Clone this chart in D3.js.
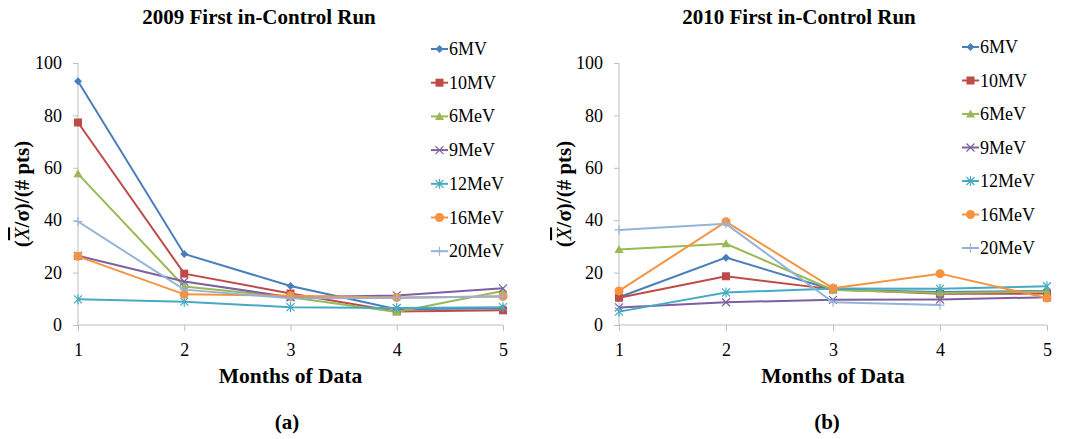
<!DOCTYPE html>
<html>
<head>
<meta charset="utf-8">
<script src="https://cdn.jsdelivr.net/npm/d3@7"></script>
<style>
    body { margin: 0; background: #ffffff; }
    svg text { font-family: "Liberation Serif", "Times New Roman", serif; fill: #000; }
</style>
</head>
<body>
<div id="chart"></div>
<script>

// months on the x axis
const months = [1, 2, 3, 4, 5];
const seriesNames = ['6MV', '10MV', '6MeV', '9MeV', '12MeV', '16MeV', '20MeV'];
const yTicks = [0, 20, 40, 60, 80, 100];

// 2009 first in-control run, one row per series (same order as seriesNames)
const run2009_6MV   = [93.0, 27.1, 14.9, 6.0, 6.4];
const run2009_10MV  = [77.3, 19.6, 12.0, 5.2, 5.6];
const run2009_6MeV  = [57.7, 14.7, 10.6, 5.0, 13.0];
const run2009_9MeV  = [26.4, 16.6, 10.6, 11.3, 14.0];
const run2009_12MeV = [9.8, 8.9, 6.8, 6.5, 6.8];
const run2009_16MeV = [26.2, 11.7, 11.2, 10.5, 10.9];
const run2009_20MeV = [39.5, 13.5, 10.2, 10.3, 11.0];

// 2010 first in-control run (20MeV has no 5th month)
const run2010_6MV   = [10.6, 25.7, 13.5, 12.6, 13.0];
const run2010_10MV  = [10.4, 18.6, 13.6, 11.9, 12.0];
const run2010_6MeV  = [28.8, 31.0, 13.4, 12.2, 12.8];
const run2010_9MeV  = [6.7, 8.7, 9.6, 9.7, 10.6];
const run2010_12MeV = [5.1, 12.4, 13.9, 13.8, 14.8];
const run2010_16MeV = [13.0, 39.4, 14.0, 19.6, 10.3];
const run2010_20MeV = [36.3, 38.6, 8.7, 7.6, null];

const runs2009 = [run2009_6MV, run2009_10MV, run2009_6MeV, run2009_9MeV, run2009_12MeV, run2009_16MeV, run2009_20MeV];
const runs2010 = [run2010_6MV, run2010_10MV, run2010_6MeV, run2010_9MeV, run2010_12MeV, run2010_16MeV, run2010_20MeV];

// excel 2007 style colours + marker per series
const lineColors = ['#4A7EBB', '#BE4B48', '#98B954', '#7D60A0', '#46AAC5', '#F69240', '#95B3D7'];
const markerTypes = ['diamond', 'square', 'triangle', 'x', 'asterisk', 'circle', 'plus'];

const svg = d3.select('#chart').append('svg')
    .attr('width', 1067)
    .attr('height', 439);

class LineVis {

    constructor(svg, opts, data) {
        this.svg = svg;
        this.opts = opts;
        this.data = data;
        this.initVis();
    }

    initVis() {
        let vis = this;
        let o = vis.opts;

        vis.g = vis.svg.append('g');

        vis.x = d3.scaleLinear().domain([1, 5]).range([o.left, o.right]);
        vis.y = d3.scaleLinear().domain([0, 100]).range([o.bottom, o.top]);

        // title
        vis.g.append('text')
            .attr('x', o.titleX)
            .attr('y', 24)
            .attr('text-anchor', 'middle')
            .style('font-size', '21px')
            .style('font-weight', 'bold')
            .text(o.title);

        // y axis
        let yAxis = d3.axisLeft(vis.y).tickValues(yTicks).tickSize(5).tickPadding(11);
        vis.g.append('g')
            .attr('transform', `translate(${o.left},0)`)
            .call(yAxis)
            .attr('font-family', 'Liberation Serif')
            .call(g => g.selectAll('line, path').attr('stroke', '#BFBFBF'))
            .call(g => g.select('.domain').attr('d', `M0,${o.bottom}V${o.top}`))
            .call(g => g.selectAll('text').style('font-size', '18px'));

        // x axis
        let xAxis = d3.axisBottom(vis.x).tickValues(months).tickSize(6).tickPadding(12).tickFormat(d3.format('d'));
        vis.g.append('g')
            .attr('transform', `translate(0,${o.bottom})`)
            .call(xAxis)
            .attr('font-family', 'Liberation Serif')
            .call(g => g.selectAll('line, path').attr('stroke', '#BFBFBF'))
            .call(g => g.select('.domain').attr('d', `M${o.left},0H${o.right}`))
            .call(g => g.selectAll('text').style('font-size', '18px'));

        // axis titles
        vis.g.append('text')
            .attr('x', (o.left + o.right) / 2)
            .attr('y', 383)
            .attr('text-anchor', 'middle')
            .style('font-size', '21.5px')
            .style('font-weight', 'bold')
            .text('Months of Data');

        let yl = vis.g.append('text')
            .attr('transform', `translate(${o.yLabelX},${(o.top + o.bottom) / 2}) rotate(-90)`)
            .attr('text-anchor', 'middle')
            .style('font-size', '21px')
            .style('font-weight', 'bold');
        yl.append('tspan').text('(');
        yl.append('tspan').style('text-decoration', 'overline').style('font-style', 'italic').style('font-weight', 'normal').text('X');
        yl.append('tspan').text('/σ)/(# pts)');

        // panel letter
        vis.g.append('text')
            .attr('x', o.letterX)
            .attr('y', 429)
            .attr('text-anchor', 'middle')
            .style('font-size', '21px')
            .style('font-weight', 'bold')
            .text(o.letter);

        vis.line = d3.line()
            .defined(d => d.v !== null)
            .x(d => vis.x(d.m))
            .y(d => vis.y(d.v));

        vis.wrangleData();
    }

    wrangleData() {
        let vis = this;
        vis.series = seriesNames.map((name, i) => ({
            name: name,
            i: i,
            points: months.map((m, j) => ({m: m, v: vis.data[i][j]}))
        }));
        vis.updateVis();
    }

    drawMarker(sel, type, color) {
        // small excel-like markers
        if (type === 'diamond') {
            sel.append('path').attr('d', 'M0,-4L4,0L0,4L-4,0Z').attr('fill', color);
        } else if (type === 'square') {
            sel.append('rect').attr('x', -4).attr('y', -4).attr('width', 8).attr('height', 8).attr('fill', color);
        } else if (type === 'triangle') {
            sel.append('path').attr('d', 'M0,-4.5L4.5,3.5L-4.5,3.5Z').attr('fill', color);
        } else if (type === 'circle') {
            sel.append('circle').attr('r', 4.5).attr('fill', color);
        } else if (type === 'x') {
            sel.append('path').attr('d', 'M-4,-4L4,4M-4,4L4,-4').attr('stroke', color).attr('stroke-width', 1.2).attr('fill', 'none');
        } else if (type === 'asterisk') {
            sel.append('path').attr('d', 'M-4,-4L4,4M-4,4L4,-4M0,-5V5').attr('stroke', color).attr('stroke-width', 1.2).attr('fill', 'none');
        } else if (type === 'plus') {
            sel.append('path').attr('d', 'M-4.5,0H4.5M0,-4.5V4.5').attr('stroke', color).attr('stroke-width', 1.2).attr('fill', 'none');
        }
    }

    updateVis() {
        let vis = this;
        let o = vis.opts;

        let groups = vis.g.selectAll('.series')
            .data(vis.series)
            .enter().append('g')
            .attr('class', 'series');

        groups.append('path')
            .attr('d', d => vis.line(d.points))
            .attr('fill', 'none')
            .attr('stroke', d => lineColors[d.i])
            .attr('stroke-width', 2);

        groups.each(function (d) {
            let gs = d3.select(this);
            d.points.filter(p => p.v !== null).forEach(p => {
                let mk = gs.append('g').attr('transform', `translate(${vis.x(p.m)},${vis.y(p.v)})`);
                vis.drawMarker(mk, markerTypes[d.i], lineColors[d.i]);
            });
        });

        // legend
        let legend = vis.g.selectAll('.legend-item')
            .data(vis.series)
            .enter().append('g')
            .attr('class', 'legend-item')
            .attr('transform', d => `translate(${o.legendX},${o.legendY + d.i * o.legendStep})`);

        legend.append('line')
            .attr('x1', 0).attr('x2', 17)
            .attr('stroke', d => lineColors[d.i])
            .attr('stroke-width', 2);

        legend.each(function (d) {
            let mk = d3.select(this).append('g').attr('transform', 'translate(8.5,0)');
            vis.drawMarker(mk, markerTypes[d.i], lineColors[d.i]);
        });

        legend.append('text')
            .attr('x', 18)
            .attr('y', 6)
            .style('font-size', '18px')
            .text(d => d.name);
    }
}

new LineVis(svg, {
    title: '2009 First in-Control Run', titleX: 259,
    left: 78, right: 503, top: 63, bottom: 325,
    yLabelX: 29, letter: '(a)', letterX: 287,
    legendX: 431, legendY: 49, legendStep: 33.7
}, runs2009);

new LineVis(svg, {
    title: '2010 First in-Control Run', titleX: 799,
    left: 619, right: 1047, top: 63, bottom: 325,
    yLabelX: 571, letter: '(b)', letterX: 827,
    legendX: 962, legendY: 47, legendStep: 33.5
}, runs2010);

</script>
</body>
</html>
